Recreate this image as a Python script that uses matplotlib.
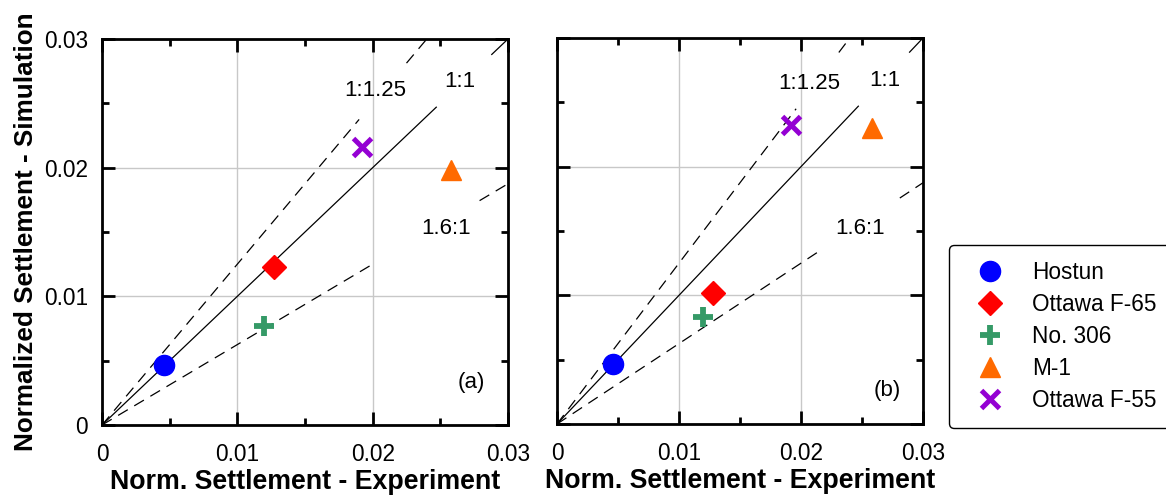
import matplotlib
matplotlib.use("Agg")
import matplotlib.pyplot as plt
from matplotlib.ticker import MultipleLocator, FuncFormatter

plt.rcParams['font.family'] = ['Liberation Sans', 'DejaVu Sans']

# Sand types and their colours / marker styles
sands = ["Hostun", "Ottawa F-65", "No. 306", "M-1", "Ottawa F-55"]
colors = ["#0000FF", "#FF0000", "#359A67", "#FF6A00", "#9400D3"]

# Normalized settlement: experiment (x) vs simulation (y)
exp_a = [0.0046, 0.0127, 0.0120, 0.0258, 0.0192]
sim_a = [0.0047, 0.0123, 0.0077, 0.0198, 0.0216]
exp_b = [0.0046, 0.0128, 0.0120, 0.0258, 0.0192]
sim_b = [0.0047, 0.0102, 0.0083, 0.0230, 0.0232]

# Reference lines y = slope * x, drawn on x-intervals (gaps left for labels)
ref_slopes = [1.0, 1.25, 1 / 1.6]
ref_styles = ["solid", "dashed", "dashed"]
ref_labels = ["1:1", "1:1.25", "1.6:1"]
ref_spans_a = [[(0, 0.0247), (0.0288, 0.030)],
               [(0, 0.0190), (0.0225, 0.024)],
               [(0, 0.0200), (0.0279, 0.030)]]
ref_spans_b = [[(0, 0.0247), (0.0289, 0.030)],
               [(0, 0.0196), (0.0231, 0.024)],
               [(0, 0.0216), (0.0281, 0.030)]]
label_pos_a = [(0.02645, 0.0267), (0.0202, 0.0260), (0.0254, 0.0153)]
label_pos_b = [(0.02685, 0.0267), (0.02066, 0.0265), (0.02484, 0.0152)]
tag_pos_a = (0.0273, 0.00334)
tag_pos_b = (0.0271, 0.00264)


def draw_marker(ax, i, x, y, **kw):
    c = colors[i]
    if i == 0:
        return ax.plot(x, y, 'o', ms=14.5, color=c, mec=c, **kw)
    if i == 1:
        return ax.plot(x, y, 'D', ms=12, color=c, mec=c, **kw)
    if i == 2:
        return ax.plot(x, y, '+', ms=14.5, mew=4.2, color=c, **kw)
    if i == 3:
        return ax.plot(x, y, '^', ms=14.5, color=c, mec=c, **kw)
    return ax.plot(x, y, 'x', ms=12.5, mew=3.6, color=c, **kw)


def fmt(v, pos):
    if abs(v) < 1e-12:
        return "0"
    return f"{v:.2f}"


def setup(ax, xs, ys, spans, lpos, tag, tpos, show_y):
    ax.set_xlim(0, 0.03)
    ax.set_ylim(0, 0.03)
    ax.xaxis.set_major_locator(MultipleLocator(0.01))
    ax.yaxis.set_major_locator(MultipleLocator(0.01))
    ax.xaxis.set_minor_locator(MultipleLocator(0.005))
    ax.yaxis.set_minor_locator(MultipleLocator(0.005))
    ax.xaxis.set_major_formatter(FuncFormatter(fmt))
    ax.yaxis.set_major_formatter(FuncFormatter(fmt))
    ax.grid(True, which='major', color='#c8c8c8', lw=1.0, zorder=0)
    ax.tick_params(which='both', direction='in', top=True, right=True,
                   width=2.0, labelsize=16.3)
    ax.tick_params(axis='x', which='major', pad=13)
    ax.tick_params(axis='y', which='major', pad=10)
    ax.tick_params(which='major', length=9.5)
    ax.tick_params(which='minor', length=5)
    if not show_y:
        ax.tick_params(axis='y', labelleft=False)
    for s in ax.spines.values():
        s.set_linewidth(2.0)
        s.set_zorder(5)
    for slope, ls, segs in zip(ref_slopes, ref_styles, spans):
        for x0, x1 in segs:
            if ls == "dashed":
                ax.plot([x0, x1], [slope * x0, slope * x1], color='black',
                        lw=0.9, dashes=(9, 6), zorder=2)
            else:
                ax.plot([x0, x1], [slope * x0, slope * x1], color='black',
                        lw=0.9, zorder=2)
    for lab, (tx, ty) in zip(ref_labels, lpos):
        ax.text(tx, ty, lab, fontsize=16, ha='center', va='center', zorder=3)
    for i in range(len(sands)):
        draw_marker(ax, i, xs[i], ys[i], zorder=4, clip_on=False)
    ax.text(tpos[0], tpos[1], tag, fontsize=16, ha='center', va='center')
    ax.set_xlabel("Norm. Settlement - Experiment", fontsize=19.3,
                  fontweight='bold', labelpad=2)


fig = plt.figure(figsize=(11.66, 4.98), dpi=100)
ax_a = fig.add_axes([102 / 1166, 1 - 425 / 498, 406 / 1166, 386 / 498])
ax_b = fig.add_axes([557 / 1166, 1 - 424 / 498, 366 / 1166, 386 / 498])

setup(ax_a, exp_a, sim_a, ref_spans_a, label_pos_a, "(a)", tag_pos_a, True)
setup(ax_b, exp_b, sim_b, ref_spans_b, label_pos_b, "(b)", tag_pos_b, False)
ax_a.set_ylabel("Normalized Settlement - Simulation", fontsize=18.8,
                fontweight='bold')
ax_a.yaxis.set_label_coords(-0.158, 0.5)

# Legend built from proxy handles of each sand's marker
handles = []
for i, name in enumerate(sands):
    h, = draw_marker(ax_b, i, [], [])
    h.set_label(name)
    handles.append(h)
leg = fig.legend(handles=handles, loc='upper left',
                 bbox_to_anchor=(949 / 1166, 1 - 245 / 498),
                 bbox_transform=fig.transFigure, fontsize=16.3,
                 frameon=True, fancybox=True, edgecolor='black',
                 framealpha=1, borderpad=0.72, labelspacing=0.39,
                 handletextpad=0.75, handlelength=2.2, borderaxespad=0)
leg.get_frame().set_linewidth(1.0)

fig.savefig("out.png", dpi=100)
